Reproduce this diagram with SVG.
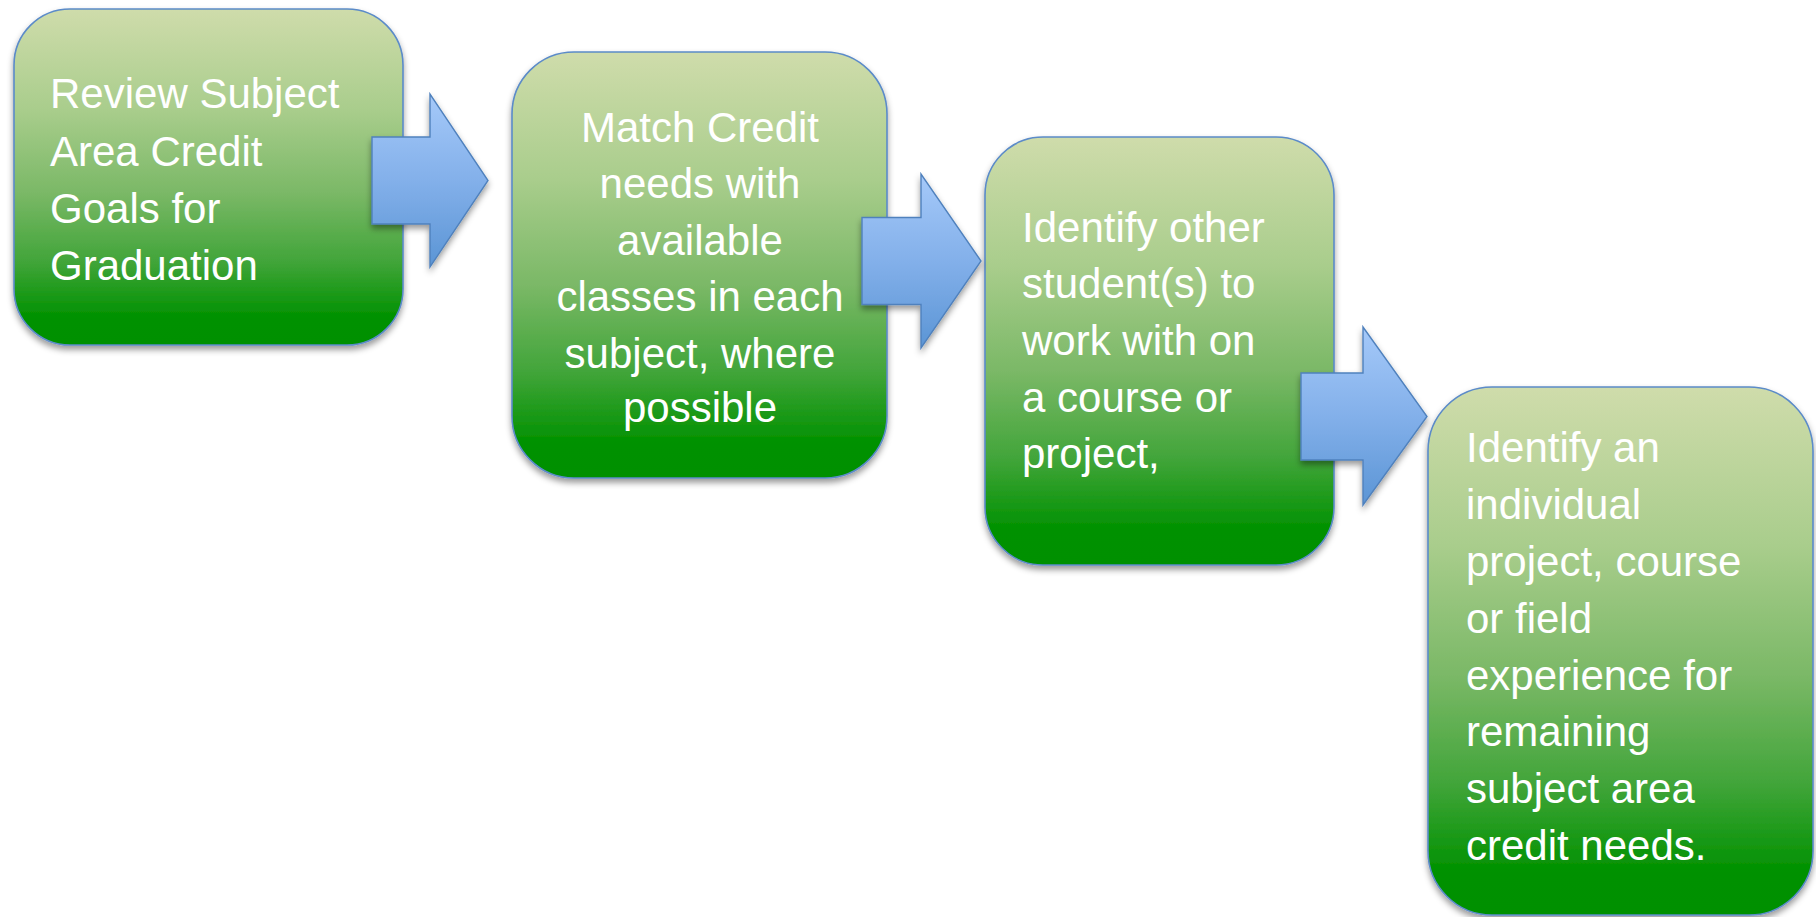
<svg xmlns="http://www.w3.org/2000/svg" width="1816" height="917" viewBox="0 0 1816 917">
  <defs>
    <linearGradient id="gGreen" x1="0" y1="0" x2="0" y2="1">
      <stop offset="0" stop-color="#cfdcab"/>
      <stop offset="0.3" stop-color="#a9cd8c"/>
      <stop offset="0.55" stop-color="#7ab866"/>
      <stop offset="0.75" stop-color="#42a53a"/>
      <stop offset="0.92" stop-color="#009100"/>
      <stop offset="1" stop-color="#009000"/>
    </linearGradient>
    <linearGradient id="gBlue" x1="0" y1="0" x2="0" y2="1">
      <stop offset="0" stop-color="#a5c9f9"/>
      <stop offset="0.5" stop-color="#83b0ea"/>
      <stop offset="1" stop-color="#5b95d5"/>
    </linearGradient>
    <filter id="shadow" x="-10%" y="-10%" width="120%" height="125%">
      <feDropShadow dx="0" dy="4" stdDeviation="3" flood-color="#000" flood-opacity="0.4"/>
    </filter>
  </defs>
  <style>
    .box { fill: url(#gGreen); stroke: #5b8bc8; stroke-width: 1.6; filter: url(#shadow); }
    .arrow { fill: url(#gBlue); stroke: #4f81bd; stroke-width: 1.4; stroke-linejoin: miter; filter: url(#shadow); }
    .t { font-family: "Liberation Sans", Arial, sans-serif; font-size: 42px; fill: #ffffff; }
    .c { text-anchor: middle; }
  </style>
  <rect width="1816" height="917" fill="#ffffff"/>

  <g id="node1">
    <rect class="box" x="14" y="9" width="389" height="336" rx="56" ry="56"/>
    <text class="t" x="50" y="108">Review Subject</text>
    <text class="t" x="50" y="166">Area Credit</text>
    <text class="t" x="50" y="223">Goals for</text>
    <text class="t" x="50" y="280">Graduation</text>
  </g>

  <g id="node2">
    <rect class="box" x="512" y="52" width="375" height="426" rx="62" ry="62"/>
    <text class="t c" x="700" y="142">Match Credit</text>
    <text class="t c" x="700" y="198">needs with</text>
    <text class="t c" x="700" y="255">available</text>
    <text class="t c" x="700" y="311">classes in each</text>
    <text class="t c" x="700" y="368">subject, where</text>
    <text class="t c" x="700" y="422">possible</text>
  </g>

  <g id="node3">
    <rect class="box" x="985" y="137" width="349" height="428" rx="58" ry="58"/>
    <text class="t" x="1022" y="242">Identify other</text>
    <text class="t" x="1022" y="298">student(s) to</text>
    <text class="t" x="1022" y="355">work with on</text>
    <text class="t" x="1022" y="412">a course or</text>
    <text class="t" x="1022" y="468">project,</text>
  </g>

  <g id="node4">
    <rect class="box" x="1428" y="387" width="385" height="528" rx="64" ry="64"/>
    <text class="t" x="1466" y="462">Identify an</text>
    <text class="t" x="1466" y="519">individual</text>
    <text class="t" x="1466" y="576">project, course</text>
    <text class="t" x="1466" y="633">or field</text>
    <text class="t" x="1466" y="690">experience for</text>
    <text class="t" x="1466" y="746">remaining</text>
    <text class="t" x="1466" y="803">subject area</text>
    <text class="t" x="1466" y="860">credit needs.</text>
  </g>

  <g id="connectors">
    <polygon class="arrow" points="372,137 430,137 430,94 488,180.5 430,267 430,224 372,224"/>
    <polygon class="arrow" points="862,217.5 921,217.5 921,174 981,261 921,348 921,304.5 862,304.5"/>
    <polygon class="arrow" points="1301,373 1363,373 1363,327 1427,416.5 1363,505 1363,460 1301,460"/>
  </g>
</svg>
